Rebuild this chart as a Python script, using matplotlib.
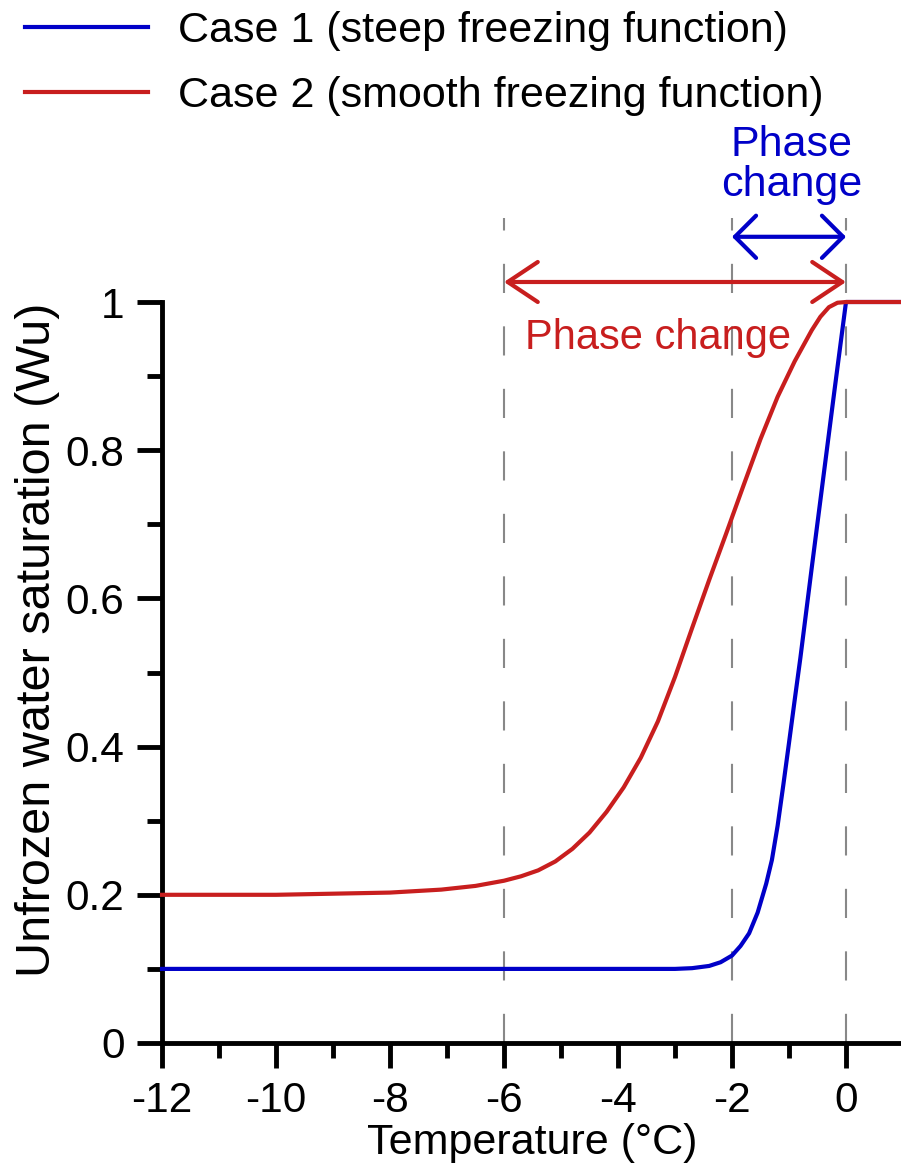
import numpy as np
import matplotlib
matplotlib.use('Agg')
import matplotlib.pyplot as plt
from matplotlib.ticker import MultipleLocator

plt.rcParams['font.family'] = ['Liberation Sans', 'DejaVu Sans']

# Temperature (deg C) and unfrozen water saturation for the two freezing functions
tempSteep = [-12, -3, -2.7, -2.4, -2.2, -2.0, -1.85, -1.7, -1.55, -1.4, -1.3, -1.2, -1.1,
             -1.0, -0.9, -0.8, -0.6, -0.4, -0.2, 0, 1]
wuSteep = [0.1, 0.1, 0.101, 0.104, 0.109, 0.118, 0.131, 0.148, 0.176, 0.215, 0.247, 0.293,
           0.348, 0.405, 0.463, 0.52, 0.642, 0.762, 0.882, 1.0, 1.0]

tempSmooth = [-12, -10, -8, -7.1, -6.5, -6.0, -5.7, -5.4, -5.1, -4.8, -4.5, -4.2, -3.9,
              -3.6, -3.3, -3.0, -2.7, -2.4, -2.1, -1.8, -1.5, -1.2, -0.9, -0.6, -0.45,
              -0.3, -0.15, 0, 1]
wuSmooth = [0.2, 0.2, 0.203, 0.207, 0.212, 0.219, 0.225, 0.233, 0.245, 0.262, 0.284,
            0.312, 0.345, 0.385, 0.434, 0.494, 0.56, 0.625, 0.688, 0.752, 0.815, 0.872,
            0.920, 0.962, 0.980, 0.993, 0.999, 1.0, 1.0]

# Phase change intervals
steepRange = (-2, 0)
smoothRange = (-6, 0)

blue = '#0000C8'
red = '#C81E1E'

fig = plt.figure(figsize=(9.01, 11.74), dpi=100)
ax = fig.add_axes([162 / 901, 131 / 1174, 741 / 901, 741 / 1174])

for xv in sorted(set(steepRange + smoothRange)):
    ax.plot([xv, xv], [0, 1.113], color='#888888', lw=1.5, dashes=(14, 16),
            clip_on=False, zorder=1)

ax.plot(tempSteep, wuSteep, color=blue, lw=3, label='Case 1 (steep freezing function)',
        clip_on=False, zorder=3, solid_joinstyle='round')
ax.plot(tempSmooth, wuSmooth, color=red, lw=3, label='Case 2 (smooth freezing function)',
        clip_on=False, zorder=3, solid_joinstyle='round')

# Double-headed arrows marking the phase change intervals
ax.annotate('', xy=(smoothRange[0], 1.027), xytext=(smoothRange[1], 1.027),
            arrowprops=dict(arrowstyle='<->,head_length=1.08,head_width=0.72',
                            color=red, lw=3, shrinkA=0, shrinkB=0,
                            mutation_scale=20), annotation_clip=False)
ax.annotate('', xy=(steepRange[0], 1.088), xytext=(steepRange[1], 1.088),
            arrowprops=dict(arrowstyle='<->,head_length=0.76,head_width=0.76',
                            color=blue, lw=3, shrinkA=0, shrinkB=0,
                            mutation_scale=20), annotation_clip=False)
ax.text(-3.3, 0.951, 'Phase change', color=red, fontsize=30, ha='center', va='center')
ax.text(-0.95, 1.185, 'Phase\nchange', color=blue, fontsize=31, ha='center', va='center',
        linespacing=1.02)

ax.set_xlim(-12, 1)
ax.set_ylim(0, 1)
ax.xaxis.set_minor_locator(MultipleLocator(1))
ax.yaxis.set_minor_locator(MultipleLocator(0.1))
ax.set_yticks([0, 0.2, 0.4, 0.6, 0.8, 1])
ax.set_yticklabels(['0', '0.2', '0.4', '0.6', '0.8', '1'])
ax.set_xticks(range(-12, 1, 2))
ax.set_xticklabels([str(v) for v in range(-12, 1, 2)])

for side in ['top', 'right']:
    ax.spines[side].set_visible(False)
for side in ['left', 'bottom']:
    ax.spines[side].set_linewidth(3.5)
ax.tick_params(which='major', direction='out', length=18, width=3.5, labelsize=30.5)
ax.tick_params(axis='x', which='major', pad=9)
ax.tick_params(axis='y', which='major', pad=9)
ax.tick_params(which='minor', direction='out', length=10.5, width=3.5)

ax.set_xlabel('Temperature (\u00b0C)', fontsize=31)
ax.set_ylabel('Unfrozen water saturation (Wu)', fontsize=35)
ax.xaxis.set_label_coords(0.5, -0.108)
ax.yaxis.set_label_coords(-0.138, 0.544)

ax.legend(loc='upper left', bbox_to_anchor=(25 / 901, 1163 / 1174),
          bbox_transform=fig.transFigure, frameon=False, fontsize=31,
          handlelength=2.85, handletextpad=0.7, labelspacing=0.58,
          borderpad=0, borderaxespad=0)

fig.savefig('out.png', dpi=100)
